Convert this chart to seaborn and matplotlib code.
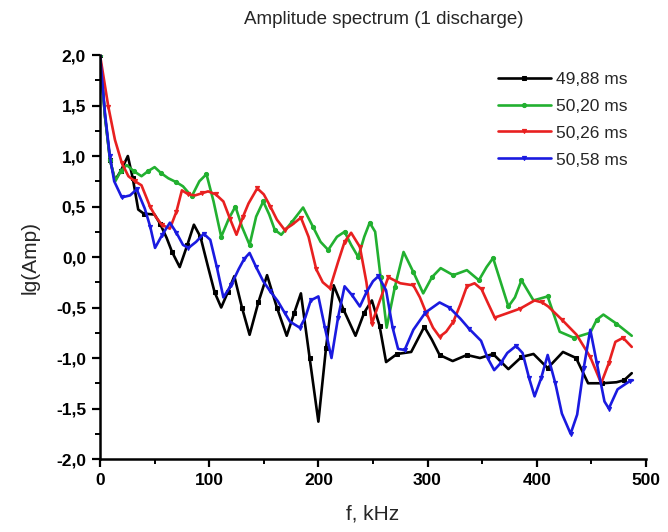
import numpy as np
import pandas as pd
import matplotlib
matplotlib.use("Agg")
import matplotlib.pyplot as plt
import seaborn as sns
from matplotlib.ticker import MultipleLocator

# ---------------- data ----------------
f_black = [0, 4.6, 9.2, 13.7, 19, 25.5, 30, 35, 40, 50, 55, 61, 66, 73, 80, 86, 92, 99, 105, 111,
           117, 123, 130, 137, 145, 153, 162, 171, 178, 184, 192, 200, 207, 214, 223, 234, 242, 249,
           256, 262, 272, 285, 297, 304, 311, 323, 336, 348, 360, 374, 386, 397, 410, 424, 436, 447,
           460, 473, 480, 487]
v_black = [2.0, 1.39, 0.96, 0.76, 0.85, 1.0, 0.78, 0.47, 0.43, 0.42, 0.33, 0.19, 0.05, -0.10, 0.12,
           0.32, 0.20, -0.10, -0.35, -0.50, -0.35, -0.19, -0.50, -0.77, -0.45, -0.18, -0.50, -0.78,
           -0.55, -0.36, -1.0, -1.63, -0.9, -0.28, -0.52, -0.78, -0.55, -0.43, -0.68, -1.04, -0.96,
           -0.94, -0.69, -0.82, -0.97, -1.03, -0.97, -1.0, -0.96, -1.11, -0.99, -0.96, -1.10, -0.94,
           -1.0, -1.25, -1.25, -1.24, -1.22, -1.15]

f_green = [0, 4.6, 9.2, 14, 19, 24.5, 31, 38, 44, 50, 56, 62.5, 70, 76, 84, 91, 97.5, 104, 111, 118,
           124, 130, 137, 143, 149.5, 155, 160, 166, 176, 186, 195, 202, 209, 217, 224, 230, 236.5,
           242, 247, 252, 257, 262.5, 270, 278, 287, 296, 304, 312, 323.5, 336, 347, 354, 360, 367,
           374, 380, 386, 397, 410, 421, 434, 449, 455, 461, 473, 487]
v_green = [2.0, 1.39, 0.96, 0.75, 0.85, 0.91, 0.85, 0.80, 0.85, 0.89, 0.83, 0.78, 0.74, 0.70, 0.60,
           0.75, 0.82, 0.55, 0.20, 0.38, 0.50, 0.30, 0.12, 0.40, 0.55, 0.42, 0.27, 0.22, 0.35, 0.49,
           0.30, 0.15, 0.07, 0.20, 0.25, 0.12, 0.0, 0.20, 0.34, 0.25, -0.20, -0.70, -0.30, 0.05,
           -0.15, -0.36, -0.20, -0.11, -0.18, -0.13, -0.23, -0.10, -0.01, -0.25, -0.49, -0.40,
           -0.23, -0.43, -0.39, -0.74, -0.80, -0.75, -0.62, -0.57, -0.66, -0.78]

f_red = [0, 3, 7.6, 13.7, 20, 26, 32, 38, 45.8, 51, 56.5, 64, 70, 75, 81, 87, 93, 99, 106, 113, 119,
         125, 131, 136, 144, 150, 156, 162, 169, 176, 184, 191, 198, 204, 210.6, 218, 224, 230, 238,
         244, 249, 256, 264, 275, 287, 293, 299, 305, 311, 317, 323.6, 330, 336, 343, 349.5, 355,
         361.5, 372, 385, 398, 405, 410.5, 423, 436.5, 449, 459, 466, 472, 479, 487]
v_red = [2.0, 1.8, 1.49, 1.16, 0.93, 0.80, 0.75, 0.71, 0.50, 0.40, 0.32, 0.28, 0.45, 0.66, 0.62, 0.61,
         0.63, 0.65, 0.62, 0.55, 0.38, 0.22, 0.40, 0.53, 0.68, 0.62, 0.50, 0.37, 0.27, 0.32, 0.39,
         0.20, -0.12, -0.25, -0.31, -0.05, 0.15, 0.24, 0.10, -0.25, -0.66, -0.44, -0.20, -0.26,
         -0.28, -0.40, -0.56, -0.70, -0.79, -0.74, -0.64, -0.47, -0.29, -0.26, -0.32, -0.45, -0.60,
         -0.56, -0.51, -0.43, -0.45, -0.49, -0.62, -0.77, -0.99, -1.25, -1.05, -0.84, -0.80, -0.89]

f_blue = [0, 4.6, 9, 13, 20, 27.5, 33.6, 41, 46, 50.4, 57, 64, 70, 76, 81, 88, 95, 101, 107, 113,
          120, 127, 132, 137, 143, 149.5, 156, 163, 169, 174, 183, 188, 193, 200, 206, 212, 218,
          224, 231, 238, 244, 250, 255, 262, 268, 273, 279, 287, 298, 311, 320, 330, 338, 349, 355,
          361, 367, 373, 381, 387, 393, 398, 404, 410, 417, 423, 431, 437, 443, 449, 455, 462, 466,
          474, 485, 488]
v_blue = [2.0, 1.42, 1.0, 0.75, 0.59, 0.61, 0.67, 0.48, 0.30, 0.09, 0.22, 0.34, 0.24, 0.12, 0.09,
          0.15, 0.23, 0.17, -0.10, -0.40, -0.28, -0.12, -0.02, 0.04, -0.10, -0.24, -0.34, -0.44,
          -0.55, -0.64, -0.70, -0.60, -0.43, -0.39, -0.70, -1.0, -0.60, -0.29, -0.38, -0.49, -0.35,
          -0.24, -0.19, -0.33, -0.70, -0.91, -0.92, -0.72, -0.55, -0.45, -0.50, -0.61, -0.71, -0.83,
          -1.0, -1.12, -1.05, -0.95, -0.88, -0.95, -1.20, -1.38, -1.20, -0.97, -1.25, -1.55, -1.75,
          -1.56, -1.10, -0.72, -1.05, -1.43, -1.50, -1.31, -1.23, -1.22]

series_names = ["49,88 ms", "50,20 ms", "50,26 ms", "50,58 ms"]
y_ticks = [-2.0, -1.5, -1.0, -0.5, 0.0, 0.5, 1.0, 1.5, 2.0]
y_tick_labels = ["-2,0", "-1,5", "-1,0", "-0,5", "0,0", "0,5", "1,0", "1,5", "2,0"]
x_ticks = [0, 100, 200, 300, 400, 500]

# ---------------- styling ----------------
sns.set_style("ticks")
plt.rcParams["font.family"] = ["Liberation Sans", "DejaVu Sans"]

colors = ["#000000", "#22b030", "#e82020", "#1a1ae0"]
markers = ["s", "o", "v", "v"]

fig = plt.figure(figsize=(6.68, 5.32), dpi=100)
ax = fig.add_axes([0.1497, 0.1372, 0.8173, 0.7594])

all_f = [f_black, f_green, f_red, f_blue]
all_v = [v_black, v_green, v_red, v_blue]
for name, fx, vy, c, m in zip(series_names, all_f, all_v, colors, markers):
    df = pd.DataFrame({"f": fx, "v": vy})
    sns.lineplot(data=df, x="f", y="v", ax=ax, color=c, marker=m, markersize=3,
                 markeredgecolor=c, linewidth=1.9, estimator=None, sort=False, label=name,
                 markevery=2)

ax.set_xlim(0, 500)
ax.set_ylim(-2.0, 2.0)
ax.set_xticks(x_ticks)
ax.set_yticks(y_ticks)
ax.set_yticklabels(y_tick_labels)
ax.xaxis.set_minor_locator(MultipleLocator(50))
ax.yaxis.set_minor_locator(MultipleLocator(0.25))
for lab in ax.get_xticklabels() + ax.get_yticklabels():
    lab.set_fontweight("bold")
    lab.set_fontsize(12.5)
ax.tick_params(which="major", direction="out", length=6, width=1.6, colors="black", pad=4)
ax.tick_params(which="minor", direction="out", length=3.5, width=1.4, colors="black")
for s in ["top", "right"]:
    ax.spines[s].set_visible(False)
for s in ["left", "bottom"]:
    ax.spines[s].set_linewidth(1.8)
    ax.spines[s].set_color("black")

ax.set_xlabel("f, kHz", fontsize=15, labelpad=12)
ax.set_ylabel("lg(Amp)", fontsize=15, labelpad=12)
ax.set_title("Amplitude spectrum (1 discharge)", fontsize=13.5, pad=22, x=0.52)

leg = ax.legend(loc="upper right", bbox_to_anchor=(0.985, 0.985), frameon=False, fontsize=12.5,
                handlelength=3.0, handletextpad=0.3, labelspacing=0.68, borderaxespad=0.2)

fig.savefig("out.png", dpi=100)
